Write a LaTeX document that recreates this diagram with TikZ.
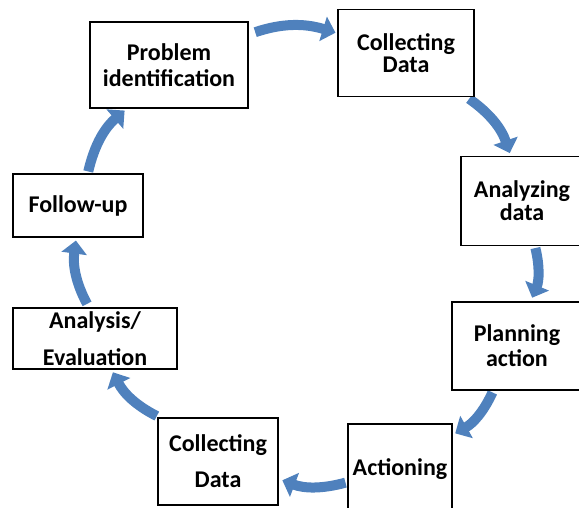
\documentclass[tikz,border=0pt]{standalone}
\usepackage{fontspec}
\setmainfont{Carlito}
\usetikzlibrary{arrows.meta}
\pgfdeclarelayer{edgelayer}
\pgfdeclarelayer{nodelayer}
\pgfsetlayers{edgelayer,nodelayer,main}
\definecolor{cycleblue}{HTML}{4F81BD}
\tikzstyle{stagebox}=[rectangle, draw=black, fill=white, line width=1.2pt, align=center, inner sep=0pt, font=\fontsize{24}{26}\selectfont\bfseries]
\tikzstyle{cyclearrow}=[draw=cycleblue, line width=10pt, -{Triangle[width=25pt,length=13pt]}, bend left=18, shorten <=3pt, shorten >=3pt]

\begin{document}
\begin{tikzpicture}[x=1pt, y=-1pt]
						\useasboundingbox (0, 0) rectangle (579, 508);
						\begin{pgfonlayer}{nodelayer}
							\node [style=stagebox, minimum width=158, minimum height=86] (1) at (169, 65) {Problem\\identification};
							\node [style=stagebox, minimum width=136, minimum height=87] (2) at (406, 53) {Collecting\\[-4pt]Data};
							\node [style=stagebox, minimum width=122, minimum height=89] (3) at (522, 201) {Analyzing\\[-3pt]data};
							\node [style=stagebox, minimum width=130, minimum height=88] (4) at (517, 346) {Planning\\[-1pt]action};
							\node [style=stagebox, minimum width=104, minimum height=90] (5) at (400, 469) {Actioning};
							\node [style=stagebox, minimum width=120, minimum height=87] (6) at (218, 461.5) {Collecting\\[10pt]Data};
							\node [style=stagebox, minimum width=164, minimum height=61] (7) at (95, 338.5) {Analysis/\\[11pt]Evaluation};
							\node [style=stagebox, minimum width=130, minimum height=63] (8) at (78, 205.5) {Follow-up};
						\end{pgfonlayer}
						\begin{pgfonlayer}{edgelayer}
							\draw [style=cyclearrow, shorten <=7pt, shorten >=2pt] (1.21) to (2.164);
							\draw [style=cyclearrow] (2.-36) to (3.104);
							\draw [style=cyclearrow, shorten <=2pt, shorten >=4pt] (3.-74) to (4.73);
							\draw [style=cyclearrow, shorten <=2pt] (4.242) to (5.33);
							\draw [style=cyclearrow, shorten <=2pt, shorten >=4pt] (5.194) to (6.-16);
							\draw [style=cyclearrow] (6.143) to (7.-62);
							\draw [style=cyclearrow, shorten <=4pt] (7.101) to (8.-93);
							\draw [style=cyclearrow, shorten <=2pt] (8.73) to (1.226);
						\end{pgfonlayer}
					\end{tikzpicture}
\end{document}
